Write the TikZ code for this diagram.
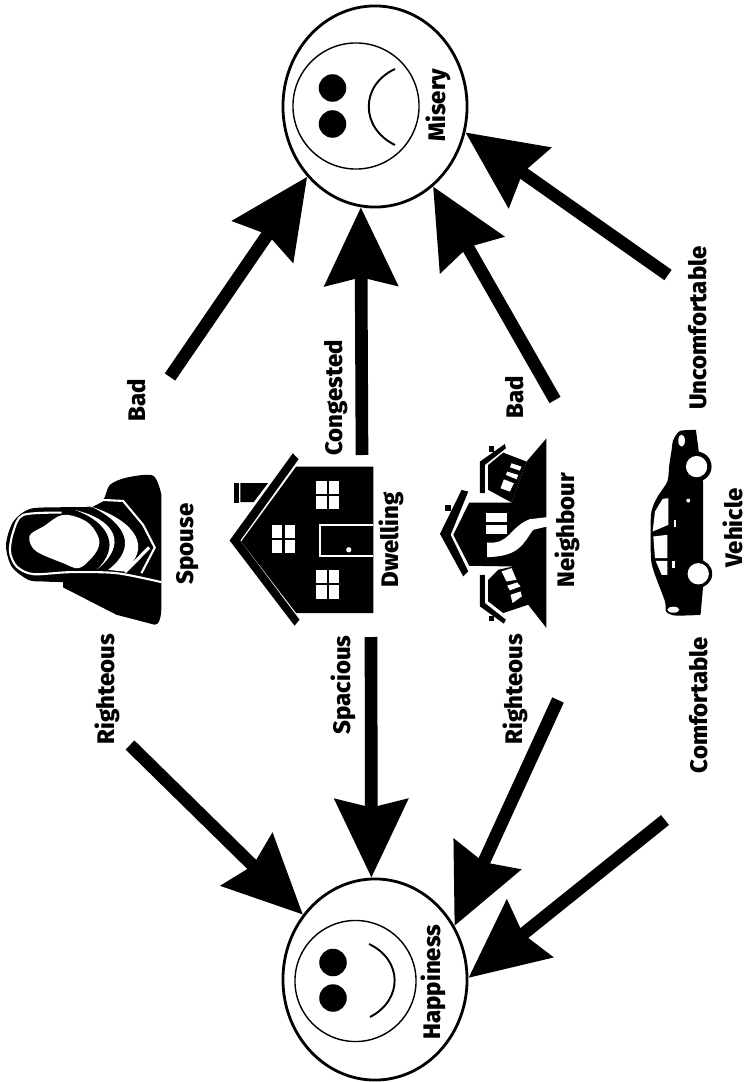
\documentclass[tikz,border=0pt]{standalone}
\usepackage{fontspec}
\setmainfont{Fira Sans}[BoldFont={Fira Sans ExtraBold}]
\usetikzlibrary{shapes.geometric,arrows.meta,positioning}

\begin{document}
\begin{tikzpicture}[
    x=0.01cm, y=-0.01cm,
    label/.style={rotate=90, inner sep=0pt, font=\fontsize{6.8}{9}\selectfont\bfseries},
    bigface/.style={draw, ellipse, line width=0.8pt, inner sep=0pt, minimum width=1.84cm, minimum height=2.01cm},
    face/.style={draw, circle, line width=0.4pt, inner sep=0pt},
    eye/.style={circle, fill=black, inner sep=0pt, minimum size=0.275cm},
    mouth/.style={line width=0.55pt},
    arrow/.style={-{Stealth[length=7.8mm,width=7.2mm,inset=0.8mm]}, line width=3.6pt},
    cropA/.style={shift={(0,420)}, x=0.003333cm, y=-0.003333cm},
    cropC/.style={shift={(0,465)}, x=0.003333cm, y=-0.003333cm},
    cropD/.style={shift={(640,425)}, x=0.003333cm, y=-0.003333cm},
    cropE/.style={shift={(430,430)}, x=0.003333cm, y=-0.003333cm},
    cut/.style={draw=white, line width=0.6pt}
]
\useasboundingbox (0,0) rectangle (745,1082);

% Misery
\node[bigface] (misery) at (375,106.5) {};
\node[face, minimum size=1.26cm] (miseryface) at (356,106) {};
\node[eye] (miseryeye1) at (332.5,88) {};
\node[eye] (miseryeye2) at (332.5,124) {};
\draw[mouth] (395,69) .. controls (360,85) and (360,128) .. (395,145);
\node[label] (miserytxt) at (438,105) {Misery};

% Happiness
\node[bigface] (happy) at (375,979.5) {};
\node[face, minimum size=1.21cm] (happyface) at (355.5,981) {};
\node[eye] (happyeye1) at (333,962.5) {};
\node[eye] (happyeye2) at (333,998) {};
\draw[mouth] (369,944) .. controls (403,960) and (403,1000) .. (370,1017);
\node[label] (happytxt) at (433,982) {Happiness};

% Spouse
\begin{scope}[cropC]
\fill plot[smooth, tension=0.5] coordinates {(190,352) (130,350) (85,345) (35,305) (18,240) (40,170) (90,132) (180,127) (270,125) (310,105) (330,60) (380,38) (460,32) (485,90)}
    -- (485,420) .. controls (485,460) and (478,480) .. (465,480) -- (350,450) -- (190,368) -- cycle;
\draw[cut] plot[smooth, tension=0.5] coordinates {(185,143) (70,150) (40,200) (30,260) (50,305) (100,328) (210,322) (350,325) (485,352)};
\draw[cut] (272,125) -- (310,105) -- (370,108) -- (430,180) -- (465,248) -- (425,325);
\draw[cut, line width=0.9pt] (375,322) -- (448,248);
\fill[white] plot[smooth cycle, tension=0.6] coordinates {(88,225) (95,205) (130,185) (190,150) (260,170) (295,215) (295,250) (270,285) (235,310) (190,295) (110,260)};
\fill[white] (225,135) .. controls (350,165) and (385,240) .. (290,315) .. controls (360,250) and (335,175) .. cycle;
\fill[white] (275,125) .. controls (410,170) and (460,250) .. (370,320) -- (325,315) .. controls (410,250) and (385,180) .. cycle;
\end{scope}
\node[label] (spouse) at (188,544) {Spouse};

% Dwelling
\begin{scope}[cropA]
\fill (890,140) -- (1122,140) -- (1122,580) -- (890,580) -- (725,365) -- cycle;
\fill (880,100) -- (897,118) -- (722,362) -- (900,600) -- (885,618) -- (690,362) -- cycle;
\fill (702,190) rectangle (718,250);
\fill (722,190) -- (805,190) -- (762,247) -- (722,247) -- cycle;
\foreach \wx/\wy in {950/183, 817/315, 950/452}{
  \fill[white] (\wx,\wy) rectangle ++(70,85);
  \draw[black, line width=0.6pt] (\wx+35,\wy) -- ++(0,85) (\wx,\wy+42) -- ++(70,0);
}
\draw[cut] (1122,315) -- (962,315) -- (962,408) -- (1122,408);
\fill[white] (1048,390) circle (8);
\end{scope}
\node[label] (dwelling) at (391,540) {Dwelling};

% Neighbour
\begin{scope}[cropE]
\fill (118,218) -- (245,218) -- (290,95) -- (350,25) -- (350,595) -- (295,525) -- (245,410) -- (118,408) -- (70,315) -- cycle;
\fill (30,312) -- (95,180) -- (115,185) -- (62,315) -- (115,425) -- (100,440) -- cycle;
\fill (45,225) rectangle (62,242);
\fill (150,95) -- (225,42) -- (228,55) -- (165,105) -- (165,190) -- (150,190) -- cycle;
\fill (178,48) rectangle (192,65);
\fill (175,105) -- (220,68) -- (290,95) -- (245,218) -- (175,180) -- cycle;
\fill[white] (245,100) -- (275,110) -- (270,122) -- (240,112) -- cycle;
\fill[white] (232,125) -- (265,135) -- (260,148) -- (228,135) -- cycle;
\fill[white] (222,148) -- (252,160) -- (240,185) -- (212,175) -- cycle;
\fill (150,435) -- (165,435) -- (165,520) -- (228,570) -- (222,582) -- (150,530) -- cycle;
\fill (178,558) rectangle (192,575);
\fill (175,450) -- (205,420) -- (250,410) -- (295,525) -- (220,550) -- (175,515) -- cycle;
\fill[white] (215,425) -- (245,415) -- (260,450) -- (230,455) -- cycle;
\fill[white] (232,468) -- (262,458) -- (272,470) -- (240,482) -- cycle;
\fill[white] (242,495) -- (272,485) -- (276,500) -- (248,520) -- cycle;
\fill[white] (168,248) rectangle (230,275);
\fill[white] (168,285) rectangle (230,312);
\fill[white] (172,338) .. controls (240,345) and (240,290) .. (300,268) -- (351,262) -- (351,290) -- (310,300)
    .. controls (280,340) and (270,380) .. (172,382) -- cycle;
\end{scope}
\node[label] (neighbour) at (567,530) {Neighbour};

% Vehicle
\begin{scope}[cropD]
\fill plot[smooth, tension=0.45] coordinates {(168,15) (120,18) (100,45) (95,75) (88,120) (82,170) (50,220) (33,270) (33,400) (45,450) (75,530) (78,560) (100,572) (150,572) (182,570)}
    -- (190,480) -- (190,175) -- (178,90) -- cycle;
\fill (170,125) circle (45);
\fill (175,447) circle (42);
\fill[white] (170,125) circle (32);
\fill[white] (175,447) circle (32);
\fill[white] (85,220) -- (68,222) -- (45,260) -- (38,320) -- (85,300) -- cycle;
\fill[white] (40,335) -- (82,330) -- (82,400) -- (45,400) -- cycle;
\fill[white] (47,408) -- (82,408) -- (82,450) -- (65,450) -- cycle;
\fill[white] (125,47) ellipse (10 and 18);
\fill[white] (100,555) ellipse (18 and 9);
\fill[white] (102,285) rectangle (108,305);
\fill[white] (97,408) rectangle (104,430);
\fill[white] (145,227) circle (6);
\end{scope}
\node[label] (vehicle) at (733,528) {Vehicle};

% Labels
\node[label] (righteous1) at (107,689) {Righteous};
\node[label] (bad1) at (137,400) {Bad};
\node[label] (congested) at (336,398) {Congested};
\node[label] (spacious) at (343,685) {Spacious};
\node[label] (righteous2) at (515,689) {Righteous};
\node[label] (bad2) at (515,397) {Bad};
\node[label] (uncomfortable) at (698,328) {Uncomfortable};
\node[label] (comfortable) at (699,705) {Comfortable};

% Arrow tails
\coordinate (spousebad) at (170,377);
\coordinate (dwellingbad) at (362,455);
\coordinate (neighbourbad) at (555,400);
\coordinate (vehiclebad) at (668,275);
\coordinate (spousegood) at (130,745);
\coordinate (dwellinggood) at (371,637);
\coordinate (neighbourgood) at (558,700);
\coordinate (vehiclegood) at (665,820);

% Arrows
\draw[arrow] (spousebad) -- (misery.226.5);
\draw[arrow] (dwellingbad) -- (misery.262.6);
\draw[arrow] (neighbourbad) -- (misery.306.1);
\draw[arrow] (vehiclebad) -- (misery.344.3);
\draw[arrow] (spousegood) -- (happy.138.2);
\draw[arrow] (dwellinggood) -- (happy.92.8);
\draw[arrow] (neighbourgood) -- (happy.34.4);
\draw[arrow] (vehiclegood) -- (happy.1);

\end{tikzpicture}
\end{document}
